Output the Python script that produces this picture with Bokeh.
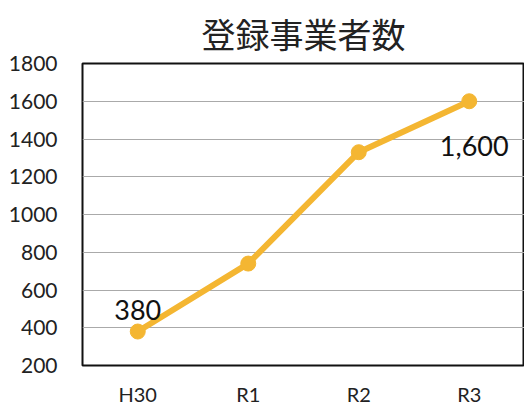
from bokeh.plotting import figure
from bokeh.models import ColumnDataSource, FixedTicker, Range1d
from bokeh.core.properties import value
from bokeh.embed import file_html
from bokeh.resources import INLINE

title_text = "登録事業者数"
categories = ["H30", "R1", "R2", "R3"]
counts = [380, 740, 1330, 1600]
y_ticks = [200, 400, 600, 800, 1000, 1200, 1400, 1600, 1800]
labeled_first = ["H30"]
labeled_last = ["R3"]

LINE = "#F4B632"
FONT = "Lato"

p = figure(width=524, height=408, x_range=categories, y_range=Range1d(200, 1800),
           output_backend="svg", toolbar_location=None,
           min_border_left=82, min_border_right=0, min_border_top=62, min_border_bottom=30)

p.title.text = title_text
p.title.align = "center"
p.title.standoff = 12
p.title.text_line_height = 0.8
p.title.text_font = "Noto Sans CJK JP"
p.title.text_font_size = "34px"
p.title.text_font_style = "normal"
p.title.text_color = "#222222"

p.outline_line_color = "#111111"
p.outline_line_width = 2
p.background_fill_color = "white"
p.border_fill_color = "white"

p.xgrid.grid_line_color = None
p.ygrid.grid_line_color = "#AAAAAA"
p.ygrid.grid_line_width = 1

p.yaxis.ticker = FixedTicker(ticks=y_ticks)
for ax in (p.xaxis[0], p.yaxis[0]):
    ax.axis_line_color = None
    ax.major_tick_line_color = None
    ax.minor_tick_line_color = None
    ax.major_label_text_font = FONT
    ax.major_label_text_color = "#222222"
p.yaxis.major_label_text_font_size = "21px"
p.yaxis.major_label_standoff = 19
p.xaxis.major_label_text_font_size = "20px"
p.xaxis.major_label_standoff = 10

src = ColumnDataSource(dict(x=categories, y=counts, label=[f"{v:,}" for v in counts]))
p.line("x", "y", source=src, line_color=LINE, line_width=6)
p.scatter("x", "y", source=src, size=15, fill_color=LINE, line_color=LINE)

def sub(keys):
    idx = [categories.index(k) for k in keys]
    return ColumnDataSource(dict(x=[categories[i] for i in idx], y=[counts[i] for i in idx],
                                 label=[f"{counts[i]:,}" for i in idx]))

p.text("x", "y", text="label", source=sub(labeled_first), text_font=value(FONT),
       text_font_size="27px", text_align="center", text_baseline="middle",
       text_color="#111111", y_offset=-22)
p.text("x", "y", text="label", source=sub(labeled_last), text_font=value(FONT),
       text_font_size="27px", text_align="center", text_baseline="middle",
       text_color="#111111", x_offset=5, y_offset=45)

open("out.html", "w").write(file_html(p, INLINE))
